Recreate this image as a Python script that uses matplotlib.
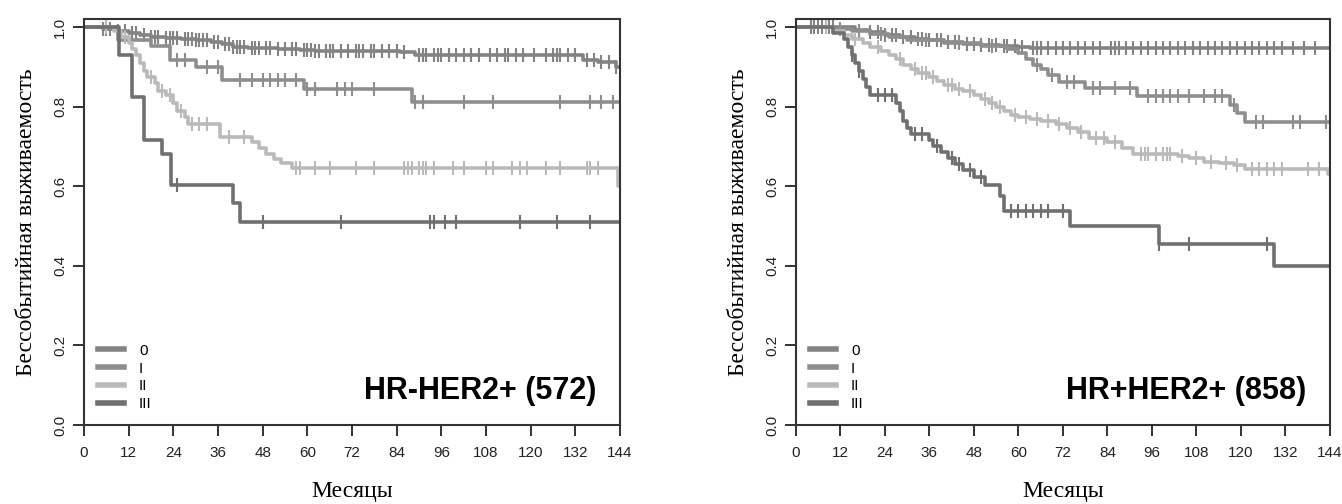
import numpy as np
import matplotlib
matplotlib.use('Agg')
import matplotlib.pyplot as plt

plt.rcParams['font.family'] = ['Liberation Sans', 'DejaVu Sans']

# ---- data: HR-HER2+ (572) ----
L0_t = [0, 5, 9, 12, 15, 18, 22, 26, 30, 34, 37, 40, 44, 52, 58, 62, 85, 89, 134, 138, 143]
L0_s = [1.0, 0.995, 0.99, 0.985, 0.98, 0.976, 0.972, 0.969, 0.966, 0.962, 0.957, 0.95, 0.947, 0.944, 0.942, 0.94, 0.937, 0.93, 0.918, 0.912, 0.90]
L0_c = [5, 6, 7, 9, 11, 13, 14, 16, 18, 19, 20, 22, 23, 24, 25, 27, 28, 29, 30, 31, 32, 33, 35, 36, 38, 39, 40,
        41, 42, 43, 45, 46, 47, 49, 50, 52, 54, 56, 57, 59, 60, 61, 62, 63, 65, 66, 67, 69, 71, 73, 74, 75, 77,
        78, 80, 82, 84, 86, 90, 91, 92, 94, 95, 96, 98, 100, 102, 104, 106, 109, 111, 113, 114, 116, 118, 121,
        124, 126, 127, 128, 130, 132, 135, 137, 139, 141, 143]

L1_t = [0, 9, 18, 23, 30, 37, 59, 88]
L1_s = [1.0, 0.968, 0.953, 0.918, 0.90, 0.866, 0.845, 0.812]
L1_c = [25, 27, 33, 36, 42, 45, 48, 50, 52, 54, 57, 60, 62, 68, 70, 72, 78, 89, 91, 102, 110, 128, 136, 139, 142]

L2_t = [0, 8, 10, 12, 13, 14, 15, 16, 17, 19, 20, 22, 24, 25, 27, 28, 36.5, 45, 47, 49, 51, 53, 56, 143.5]
L2_s = [1.0, 0.99, 0.975, 0.96, 0.945, 0.93, 0.91, 0.89, 0.875, 0.86, 0.84, 0.83, 0.81, 0.79, 0.775, 0.757,
        0.724, 0.71, 0.695, 0.68, 0.668, 0.657, 0.645, 0.60]
L2_c = [6, 11, 18, 21, 23, 26, 29, 31, 33, 39, 43, 57, 58, 62, 66, 73, 78, 86, 87, 88, 90, 91, 92, 94, 99, 102,
        108, 110, 115, 117, 119, 124, 128, 135, 136, 138]

L3_t = [0, 9.5, 13, 16, 21, 23.5, 40, 42]
L3_s = [1.0, 0.929, 0.823, 0.715, 0.68, 0.604, 0.559, 0.51]
L3_c = [25, 48, 69, 93, 94, 97, 100, 117, 127, 136]

# ---- data: HR+HER2+ (858) ----
R0_t = [0, 16, 20, 24, 28, 32, 36, 40, 45, 50, 55, 60, 63]
R0_s = [1.0, 0.993, 0.987, 0.98, 0.975, 0.97, 0.966, 0.962, 0.958, 0.955, 0.952, 0.949, 0.946]
R0_c = [4, 5, 6, 7, 8, 9, 10, 20, 22, 24, 26, 27, 29, 31, 33, 34, 36, 38, 39, 41, 43, 44, 46, 48, 50, 52, 54,
        56, 57, 59, 61, 64, 65, 66, 68, 70, 72, 74, 76, 78, 80, 82, 85, 86, 87, 89, 91, 93, 95, 97, 99, 101,
        103, 105, 107, 109, 111, 113, 115, 117, 119, 121, 123, 125, 127, 129, 131, 134, 137, 140]

R1_t = [0, 10, 15, 20, 25, 30, 40, 50, 57, 60, 62, 64, 66, 68, 71, 78, 92, 117, 119, 121]
R1_s = [1.0, 0.995, 0.99, 0.983, 0.975, 0.967, 0.96, 0.952, 0.945, 0.935, 0.92, 0.905, 0.895, 0.88, 0.862,
        0.847, 0.827, 0.803, 0.785, 0.761]
R1_c = [12, 17, 23, 35, 44, 53, 65, 69, 73, 75, 80, 82, 86, 90, 95, 97, 99, 101, 103, 106, 110, 113, 115, 118,
        124, 126, 134, 136, 143]

R2_t = [0, 10, 13, 15, 18, 20, 23, 25, 27, 29, 31, 33, 36, 38, 40, 43, 45, 48, 50, 52, 54, 56, 58, 60, 63, 66,
        70, 73, 76, 79, 84, 88, 91, 103, 106, 110, 114, 118, 121, 143.5]
R2_s = [1.0, 0.99, 0.98, 0.97, 0.96, 0.95, 0.94, 0.93, 0.92, 0.905, 0.895, 0.885, 0.875, 0.865, 0.855, 0.845,
        0.838, 0.83, 0.82, 0.81, 0.80, 0.79, 0.78, 0.775, 0.77, 0.765, 0.755, 0.745, 0.735, 0.72, 0.71, 0.695,
        0.682, 0.675, 0.67, 0.662, 0.657, 0.652, 0.644, 0.63]
R2_c = [8, 16, 22, 28, 32, 34, 35, 37, 41, 42, 44, 47, 51, 53, 55, 59, 62, 65, 68, 71, 74, 77, 81, 83, 86, 93,
        94, 95, 97, 99, 100, 101, 104, 108, 112, 116, 119, 123, 125, 127, 129, 131, 138, 141]

R3_t = [0, 10, 13, 14, 15, 16, 17, 18, 19, 20, 27, 28, 29, 30, 31, 36, 37, 39, 41, 43, 45, 48, 51, 55, 56,
        74, 98, 129]
R3_s = [1.0, 0.985, 0.97, 0.95, 0.93, 0.91, 0.89, 0.87, 0.85, 0.828, 0.81, 0.79, 0.765, 0.745, 0.732, 0.715,
        0.70, 0.685, 0.67, 0.655, 0.64, 0.622, 0.604, 0.575, 0.538, 0.50, 0.456, 0.399]
R3_c = [15, 17, 22, 24, 26, 32, 34, 38, 42, 44, 47, 50, 58, 60, 62, 64, 66, 68, 72, 98, 106, 127]

groups = ['0', 'I', 'II', 'III']
colors = ['#838383', '#8e8e8e', '#bababa', '#707070']

panels = [
    ('HR-HER2+ (572)', [(L0_t, L0_s, L0_c), (L1_t, L1_s, L1_c), (L2_t, L2_s, L2_c), (L3_t, L3_s, L3_c)]),
    ('HR+HER2+ (858)', [(R0_t, R0_s, R0_c), (R1_t, R1_s, R1_c), (R2_t, R2_s, R2_c), (R3_t, R3_s, R3_c)]),
]


def surv_at(t, s, x):
    idx = np.searchsorted(np.array(t), x, side='right') - 1
    return np.array(s)[idx]


fig = plt.figure(figsize=(13.42, 5.04), dpi=100)
axes_pos = [[0.0626, 0.1567, 0.3994, 0.8056], [0.5931, 0.1567, 0.3979, 0.8056]]
serif = ['Liberation Serif', 'DejaVu Serif']

for pos, (title, curves) in zip(axes_pos, panels):
    ax = fig.add_axes(pos)
    for (t, s, c), col, g in zip(curves, colors, groups):
        tt = list(t) + [144]
        ss = list(s) + [s[-1]]
        ax.step(tt, ss, where='post', color=col, lw=2.6, label=g)
        c = np.array(c)
        ax.plot(c, surv_at(t, s, c), ls='none', marker='|', ms=10, mew=1.5, color=col)
    ax.set_xlim(0, 144)
    ax.set_ylim(0, 1.02)
    ax.set_xticks(np.arange(0, 145, 12))
    ax.set_yticks([0, 0.2, 0.4, 0.6, 0.8, 1.0])
    ax.set_yticklabels(['0.0', '0.2', '0.4', '0.6', '0.8', '1.0'], rotation=90, va='center')
    ax.tick_params(axis='both', labelsize=11, colors='#222222', length=8, width=1.3)
    ax.tick_params(axis='x', pad=7)
    ax.tick_params(axis='y', pad=4)
    for sp in ax.spines.values():
        sp.set_linewidth(1.5)
        sp.set_color('#333333')
    ax.set_xlabel('Месяцы', family=serif, fontsize=17, labelpad=15)
    ax.set_ylabel('Бессобытийная выживаемость', family=serif, fontsize=17, labelpad=12)
    ax.text(0.955, 0.085, title, transform=ax.transAxes, ha='right', va='center',
            fontsize=22, fontweight='bold', family=['Liberation Sans Narrow', 'Liberation Sans'])
    leg = ax.legend(loc='lower left', bbox_to_anchor=(0.0, 0.0), frameon=False, fontsize=11,
                    handlelength=1.7, handletextpad=1.0, labelspacing=0.25, borderaxespad=0.4,
                    borderpad=0.5)
    for h in leg.get_lines():
        h.set_linewidth(4)

fig.savefig('out.png', dpi=100)
